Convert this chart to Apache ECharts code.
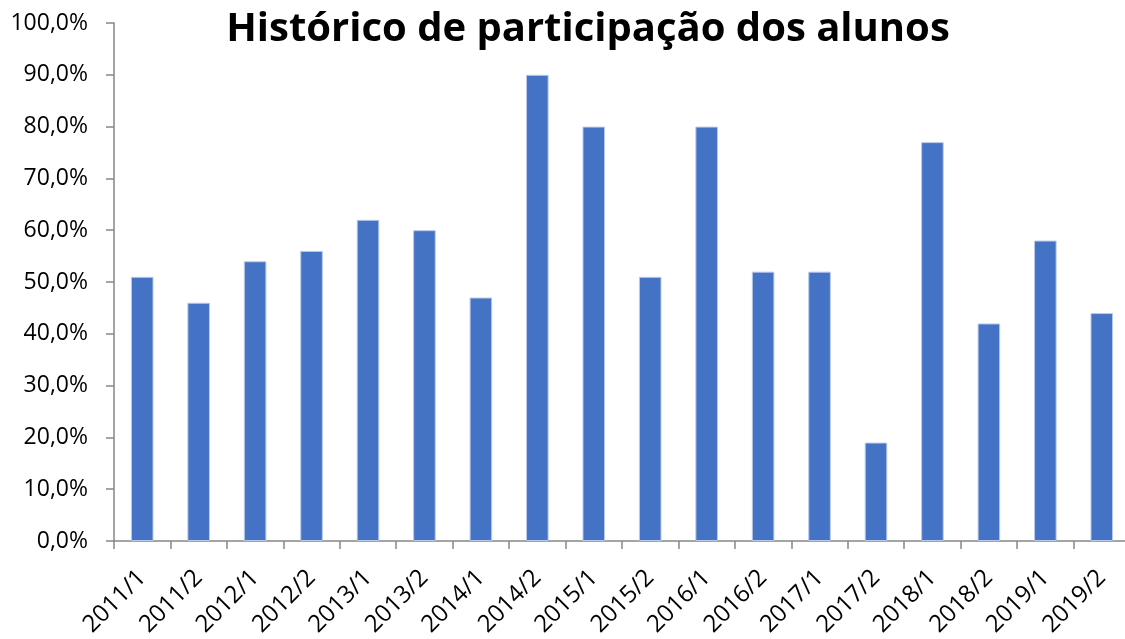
<!DOCTYPE html>
<html><head><meta charset="utf-8">
<script src="https://cdn.jsdelivr.net/npm/echarts@6/dist/echarts.min.js"></script>
<style>html,body{margin:0;padding:0;background:#fff}#c{width:1125px;height:639px}</style>
</head><body><div id="c"></div>
<script>
const categories = ["2011/1","2011/2","2012/1","2012/2","2013/1","2013/2","2014/1","2014/2","2015/1","2015/2","2016/1","2016/2","2017/1","2017/2","2018/1","2018/2","2019/1","2019/2"];
const values = [51,46,54,56,62,60,47,90,80,51,80,52,52,19,77,42,58,44];
const titleText = "Histórico de participação dos alunos";
const FONT = "Open Sans";
const chart = echarts.init(document.getElementById('c'), null, {renderer:'canvas'});
chart.setOption({
  animation:false,
  backgroundColor:'#fff',
  title:{text:titleText,left:583,textAlign:'center',top:5,textStyle:{fontFamily:FONT,fontWeight:'bold',fontSize:40,color:'#000'}},
  grid:{left:114,top:23,width:1016,bottom:98,containLabel:false,outerBoundsMode:'none'},
  xAxis:{type:'category',data:categories,
    axisLine:{lineStyle:{color:'#868686',width:1.5}},
    axisTick:{show:true,length:8,lineStyle:{color:'#868686',width:1.5},alignWithLabel:false},
    axisLabel:{rotate:45,interval:0,fontFamily:FONT,fontSize:24,color:'#000',margin:33,hideOverlap:false}},
  yAxis:{type:'value',min:0,max:100,interval:10,
    axisLine:{show:true,lineStyle:{color:'#868686',width:1.5}},
    axisTick:{show:true,length:8,lineStyle:{color:'#868686',width:1.5}},
    splitLine:{show:false},
    axisLabel:{fontFamily:FONT,fontSize:23,color:'#000',margin:26,formatter:v=>v.toFixed(1).replace('.',',')+'%'}},
  series:[{type:'bar',data:values,barWidth:'40%',itemStyle:{color:'#4472C4',borderColor:'#b9c9e8',borderWidth:1}}]
});
</script></body></html>
